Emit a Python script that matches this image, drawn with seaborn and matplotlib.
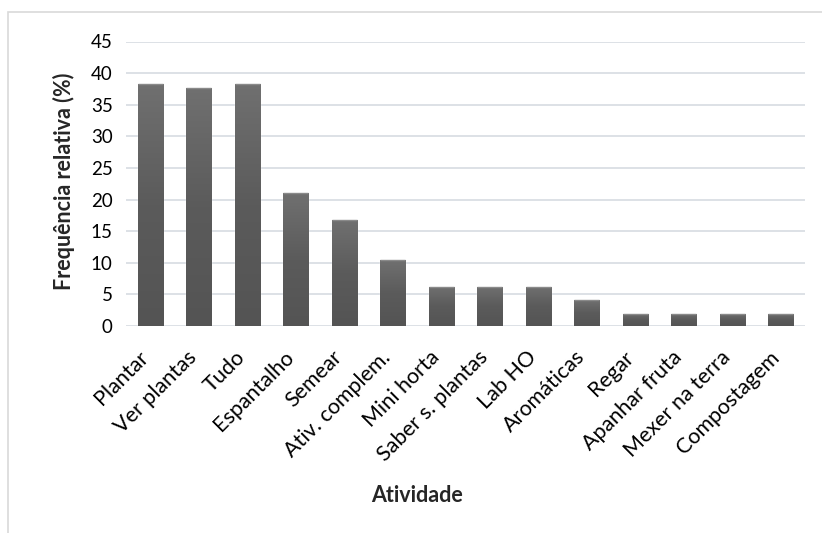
import numpy as np
import pandas as pd
import matplotlib
matplotlib.use("Agg")
import matplotlib.pyplot as plt
import seaborn as sns
from matplotlib.patches import Rectangle
from matplotlib.transforms import ScaledTranslation

# Activity categories and relative frequency (%)
atividades = ["Plantar", "Ver plantas", "Tudo", "Espantalho", "Semear",
              "Ativ. complem.", "Mini horta", "Saber s. plantas", "Lab HO",
              "Aromáticas", "Regar", "Apanhar fruta", "Mexer na terra",
              "Compostagem"]
frequencia = [38.3, 37.7, 38.3, 21.0, 16.7, 10.4, 6.2, 6.2, 6.2, 4.1,
              1.9, 1.9, 1.9, 1.9]
y_ticks = [0, 5, 10, 15, 20, 25, 30, 35, 40, 45]

df = pd.DataFrame({"Atividade": atividades, "Frequencia": frequencia})

sns.set_theme(style="white")
plt.rcParams["font.family"] = ["Lato", "DejaVu Sans"]

W, H = 822, 533
left, right, top, bottom = 126, 805, 41.5, 326

fig = plt.figure(figsize=(W / 100, H / 100), dpi=100)
ax = fig.add_axes([left / W, 1 - bottom / H, (right - left) / W, (bottom - top) / H])

sns.barplot(data=df, x="Atividade", y="Frequencia", color="#5e5e5e",
            width=0.52, saturation=1, ax=ax, zorder=3)

# Vertical shading on each bar: lighter top, darker base
grad = np.linspace(0, 1, 256).reshape(-1, 1)
cmap = matplotlib.colors.LinearSegmentedColormap.from_list(
    "bar", ["#545454", "#5b5b5b", "#707070"])
for p in ax.patches:
    x0, y0 = p.get_x(), p.get_y()
    w, h = p.get_width(), p.get_height()
    im = ax.imshow(grad, cmap=cmap, aspect="auto", origin="lower",
                   extent=[x0, x0 + w, y0, y0 + h], zorder=4)
    im.set_clip_path(p)
    ax.plot([x0, x0 + w], [y0 + h, y0 + h], color="#8a8a8a", lw=1.0,
            zorder=5, solid_capstyle="butt")

ax.set_xlim(-0.5, len(atividades) - 0.5)
ax.set_ylim(0, 45)
ax.set_yticks(y_ticks)
ax.yaxis.grid(True, color="#dde1e6", linewidth=1.4, zorder=0)
ax.set_axisbelow(True)
for s in ax.spines.values():
    s.set_visible(False)
ax.tick_params(axis="both", length=0, colors="#000000")
ax.tick_params(axis="y", pad=9.5, labelsize=13.5)
ax.set_xticks(range(len(atividades)))
ax.set_xticklabels(atividades, rotation=45, ha="right", rotation_mode="anchor",
                   fontsize=15.5)
ax.tick_params(axis="x", pad=13)
# nudge the slanted labels so their ends sit under the bar centres
shift = ScaledTranslation(-12 / 100, -3 / 100, fig.dpi_scale_trans)
for lbl in ax.get_xticklabels():
    lbl.set_transform(lbl.get_transform() + shift)

ax.set_ylabel("Frequência relativa (%)", fontsize=15.5, fontweight="bold")
ax.yaxis.label.set_va("center")
ax.yaxis.set_label_coords((64 - left) / (right - left), (bottom - 181) / (bottom - top))
ax.set_xlabel("Atividade", fontsize=15.5, fontweight="bold")
ax.xaxis.label.set_va("center")
ax.xaxis.set_label_coords((417 - left) / (right - left), (bottom - 496) / (bottom - top))

# Outer chart frame
fig.patches.append(Rectangle((8 / W, -0.1), 1.1, 1 - 12 / H + 0.1,
                             transform=fig.transFigure, fill=False,
                             edgecolor="#d9d9d9", linewidth=1.2))

fig.savefig("out.png", dpi=100, facecolor="white")
